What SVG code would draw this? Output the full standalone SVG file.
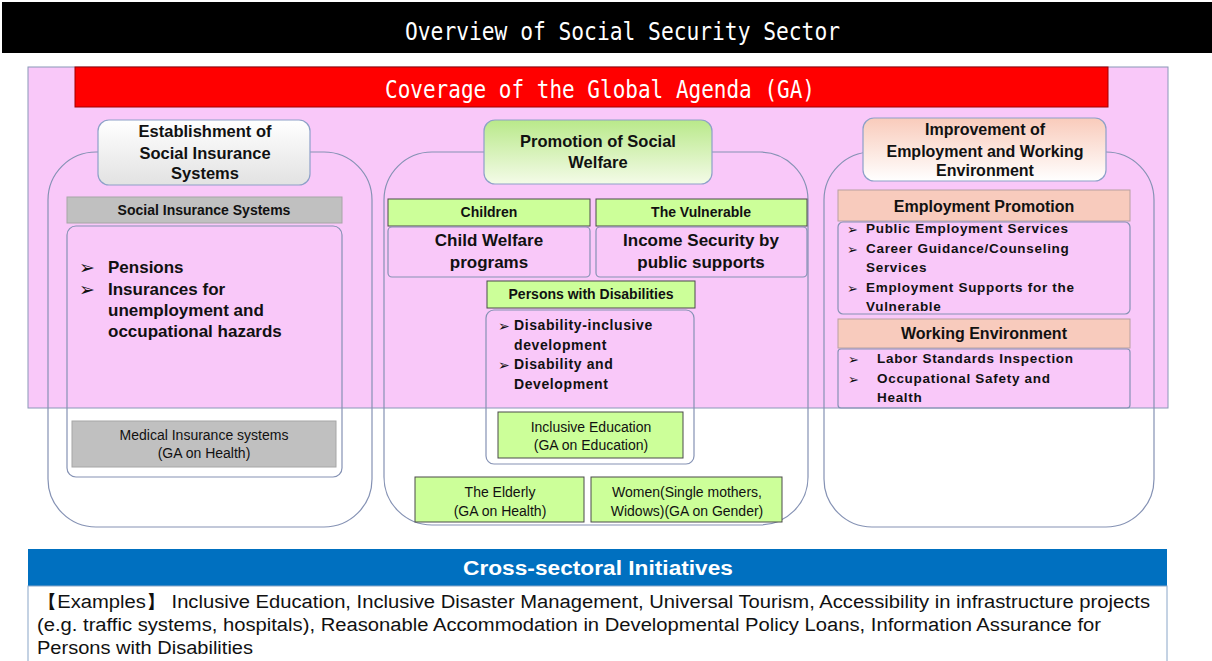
<svg xmlns="http://www.w3.org/2000/svg" width="1212" height="661" viewBox="0 0 1212 661">
<defs>
<linearGradient id="gGray" x1="0" y1="0" x2="0" y2="1"><stop offset="0" stop-color="#ffffff"/><stop offset="1" stop-color="#e2e2e2"/></linearGradient>
<linearGradient id="gGreen" x1="0" y1="0" x2="0" y2="1"><stop offset="0" stop-color="#b9e98a"/><stop offset="1" stop-color="#f4fbe8"/></linearGradient>
<linearGradient id="gPeach" x1="0" y1="0" x2="0" y2="1"><stop offset="0" stop-color="#f9cbbb"/><stop offset="1" stop-color="#ffffff"/></linearGradient>
<style>
.ol{fill:none;stroke:#8592b4;stroke-width:1.2}
.ib{fill:none;stroke:#8592b4;stroke-width:1.2}
.hd{stroke:#8da0c8;stroke-width:1.2}
.gbar{fill:#c0c0c0;stroke:#a6a6a6;stroke-width:1}
.green{fill:#ccff99;stroke:#4a4a4a;stroke-width:1}
.salmon{fill:#f8cbbd;stroke:#b8a0a0;stroke-width:1}
.t{font-family:"Liberation Sans",Arial,sans-serif;fill:#111}
.b{font-weight:bold}
.c{text-anchor:middle}
.bu{font-family:"DejaVu Sans",sans-serif;fill:#111}
.mono{font-family:"DejaVu Sans Mono","Liberation Mono",monospace;fill:#fff}
</style>
</defs>

<g id="title">
<rect x="2" y="2" width="1210" height="51" fill="#000"/>
<text class="mono" x="405" y="40" font-size="24" textLength="435" lengthAdjust="spacingAndGlyphs">Overview of Social Security Sector</text>
</g>

<g id="ga-panel">
<rect x="28" y="67" width="1140" height="341" fill="#f9c8f9" stroke="#8a98b8" stroke-width="1"/>
<rect x="75" y="67" width="1033" height="40" fill="#ff0000" stroke="#a00000" stroke-width="1"/>
<text class="mono" x="385" y="98" font-size="24" textLength="430" lengthAdjust="spacingAndGlyphs">Coverage of the Global Agenda (GA)</text>
</g>

<g id="col-left">
<rect class="ol" x="48" y="152" width="324" height="375" rx="48"/>
<rect class="ib" x="67" y="226" width="275" height="251" rx="9"/>
<rect class="gbar" x="67" y="197" width="275" height="26"/>
<text class="t b c" x="204" y="215" font-size="14">Social Insurance Systems</text>
<text class="bu" x="79" y="274" font-size="19">➢</text>
<text class="bu" x="79" y="296" font-size="19">➢</text>
<text class="t b" x="108" y="273" font-size="17">Pensions</text>
<text class="t b" x="108" y="295" font-size="17">Insurances for</text>
<text class="t b" x="108" y="316" font-size="17">unemployment and</text>
<text class="t b" x="108" y="337" font-size="17">occupational hazards</text>
<rect class="gbar" x="72" y="421" width="264" height="46"/>
<text class="t c" x="204" y="440" font-size="14" fill="#333">Medical Insurance  systems</text>
<text class="t c" x="204" y="458" font-size="14" fill="#333">(GA on Health)</text>
</g>
<g id="hdr-left">
<rect class="hd" x="98" y="120" width="212" height="65" rx="11" fill="url(#gGray)"/>
<text class="t b c" x="205" y="137" font-size="16.5">Establishment of</text>
<text class="t b c" x="205" y="159" font-size="16.5">Social Insurance</text>
<text class="t b c" x="205" y="179" font-size="16.5">Systems</text>
</g>

<g id="col-center">
<rect class="ol" x="384" y="152" width="424" height="373" rx="48"/>
<rect class="green" x="388" y="199" width="202" height="27"/>
<text class="t b c" x="489" y="217" font-size="14">Children</text>
<rect class="green" x="596" y="199" width="211" height="27"/>
<text class="t b c" x="701" y="217" font-size="14">The Vulnerable</text>
<rect class="ib" x="388" y="227" width="202" height="50" rx="4"/>
<text class="t b c" x="489" y="246" font-size="17">Child Welfare</text>
<text class="t b c" x="489" y="268" font-size="17">programs</text>
<rect class="ib" x="596" y="227" width="211" height="50" rx="4"/>
<text class="t b c" x="701" y="246" font-size="17">Income Security by</text>
<text class="t b c" x="701" y="268" font-size="17">public supports</text>
<rect class="green" x="487" y="281" width="208" height="27"/>
<text class="t b c" x="591" y="299" font-size="14">Persons with Disabilities</text>
<rect class="ib" x="486" y="310" width="208" height="154" rx="8"/>
<text class="bu" x="498" y="331" font-size="14">➢</text>
<text class="bu" x="498" y="370" font-size="14">➢</text>
<text class="t b" x="514" y="330" font-size="14" letter-spacing="0.6">Disability-inclusive</text>
<text class="t b" x="514" y="350" font-size="14" letter-spacing="0.6">development</text>
<text class="t b" x="514" y="369" font-size="14" letter-spacing="0.6">Disability  and</text>
<text class="t b" x="514" y="389" font-size="14" letter-spacing="0.6">Development</text>
<rect class="green" x="498" y="412" width="185" height="46"/>
<text class="t c" x="591" y="432" font-size="14" fill="#333">Inclusive  Education</text>
<text class="t c" x="591" y="450" font-size="14" fill="#333">(GA on Education)</text>
<rect class="green" x="415" y="477" width="169" height="45"/>
<text class="t c" x="500" y="497" font-size="14" fill="#333">The Elderly</text>
<text class="t c" x="500" y="516" font-size="14" fill="#333">(GA on Health)</text>
<rect class="green" x="591" y="477" width="191" height="45"/>
<text class="t c" x="687" y="497" font-size="14" fill="#333">Women(Single mothers,</text>
<text class="t c" x="687" y="516" font-size="14" fill="#333">Widows)(GA on Gender)</text>
</g>
<g id="hdr-center">
<rect class="hd" x="484" y="120" width="228" height="64" rx="11" fill="url(#gGreen)"/>
<text class="t b c" x="598" y="147" font-size="16.5">Promotion of Social</text>
<text class="t b c" x="598" y="168" font-size="16.5">Welfare</text>
</g>

<g id="col-right">
<rect class="ol" x="824" y="152" width="330" height="375" rx="48"/>
<rect class="salmon" x="838" y="190" width="292" height="31"/>
<text class="t b c" x="984" y="212" font-size="16">Employment Promotion</text>
<rect class="ib" x="838" y="222" width="292" height="92" rx="5"/>
<text class="bu" x="847" y="234" font-size="13">➢</text>
<text class="bu" x="847" y="254" font-size="13">➢</text>
<text class="bu" x="847" y="293" font-size="13">➢</text>
<text class="t b" x="866" y="233" font-size="13.5" letter-spacing="0.7">Public  Employment  Services</text>
<text class="t b" x="866" y="253" font-size="13.5" letter-spacing="0.7">Career Guidance/Counseling</text>
<text class="t b" x="866" y="272" font-size="13.5" letter-spacing="0.7">Services</text>
<text class="t b" x="866" y="292" font-size="13.5" letter-spacing="0.7">Employment  Supports  for the</text>
<text class="t b" x="866" y="311" font-size="13.5" letter-spacing="0.7">Vulnerable</text>
<rect class="salmon" x="838" y="319" width="292" height="29"/>
<text class="t b c" x="984" y="339" font-size="16">Working Environment</text>
<rect class="ib" x="838" y="349" width="292" height="59" rx="3"/>
<text class="bu" x="848" y="364" font-size="13">➢</text>
<text class="bu" x="848" y="384" font-size="13">➢</text>
<text class="t b" x="877" y="363" font-size="13.5" letter-spacing="0.7">Labor Standards Inspection</text>
<text class="t b" x="877" y="383" font-size="13.5" letter-spacing="0.7">Occupational  Safety and</text>
<text class="t b" x="877" y="402" font-size="13.5" letter-spacing="0.7">Health</text>
</g>
<g id="hdr-right">
<rect class="hd" x="863" y="118" width="243" height="63" rx="11" fill="url(#gPeach)"/>
<text class="t b c" x="985" y="135" font-size="16">Improvement of</text>
<text class="t b c" x="985" y="157" font-size="16">Employment and Working</text>
<text class="t b c" x="985" y="176" font-size="16">Environment</text>
</g>

<g id="cross-sectoral">
<rect x="28" y="549" width="1139" height="37" fill="#0070c0"/>
<text class="t b c" x="598" y="575" font-size="20" style="fill:#fff" textLength="270" lengthAdjust="spacingAndGlyphs">Cross-sectoral Initiatives</text>
<rect x="28" y="586" width="1139" height="80" fill="#fff" stroke="#8aa6c8" stroke-width="1"/>
<text class="t" x="37" y="608" font-size="18" textLength="1113" lengthAdjust="spacingAndGlyphs" font-family="Liberation Sans, Noto Sans CJK JP, sans-serif">【Examples】  Inclusive Education, Inclusive Disaster Management,  Universal Tourism, Accessibility in infrastructure projects</text>
<text class="t" x="37" y="631" font-size="18" textLength="1064" lengthAdjust="spacingAndGlyphs">(e.g. traffic systems, hospitals), Reasonable Accommodation  in Developmental  Policy Loans, Information Assurance for</text>
<text class="t" x="37" y="654" font-size="18" textLength="216" lengthAdjust="spacingAndGlyphs">Persons with Disabilities</text>
</g>
</svg>
